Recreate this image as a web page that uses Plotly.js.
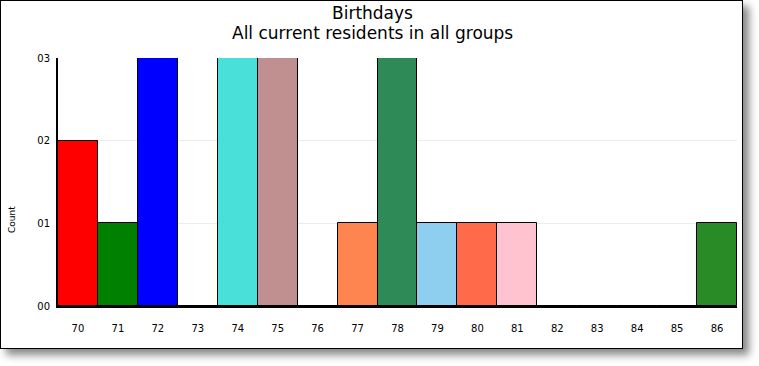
<!DOCTYPE html>
<html>
<head>
<meta charset="utf-8">
<script src="https://cdn.plot.ly/plotly-3.0.1.min.js"></script>
<style>
html,body{margin:0;padding:0;background:#fff;}
#frame{position:absolute;left:0;top:0;width:741px;height:347px;border:1px solid #000;box-shadow:6px 6px 8px #888;background:#fff;}
#chart{width:741px;height:347px;}
</style>
</head>
<body>
<div id="frame"><div id="chart"></div></div>
<script>
var categories = ["70","71","72","73","74","75","76","77","78","79","80","81","82","83","84","85","86"];
var counts = [2,1,3,0,3,3,0,1,3,1,1,1,0,0,0,0,1];
var barColors = ["#FF0000","#008000","#0000FF","#FFFFFF","#48E0D8","#C09090","#FFFFFF","#FF8550","#2E8B57","#8ECFF0","#FF6A4A","#FFC3D0","#FFFFFF","#FFFFFF","#FFFFFF","#FFFFFF","#288B25"];
var yTicks = [0,1,2,3];
var titleLine1 = 'Birthdays';
var titleLine2 = 'All current residents in all groups';

var trace = {
  type: 'bar',
  x: categories,
  y: counts,
  cliponaxis: false,
  marker: {color: barColors, line: {color: '#000', width: 1}},
  hoverinfo: 'x+y'
};

var titleFont = {size: 17, color: '#000', family: 'DejaVu Sans, Verdana, sans-serif'};

var layout = {
  width: 741, height: 347,
  margin: {l: 57, r: 5, t: 57, b: 42},
  paper_bgcolor: '#fff', plot_bgcolor: '#fff',
  bargap: 0,
  showlegend: false,
  font: {family: 'DejaVu Sans, Verdana, sans-serif', color: '#000'},
  xaxis: {
    type: 'category',
    showline: true, linecolor: '#000', linewidth: 2,
    showgrid: false, zeroline: false,
    ticks: '', ticklabelstandoff: 12,
    tickfont: {size: 10, color: '#000'}
  },
  yaxis: {
    range: [0, 3],
    tickvals: yTicks,
    tickformat: '02d',
    showline: true, linecolor: '#000', linewidth: 2,
    showgrid: true, gridcolor: '#ececec', gridwidth: 1,
    zeroline: false,
    ticks: '', ticklabelstandoff: 4,
    tickfont: {size: 10, color: '#000'}
  },
  annotations: [
    {text: titleLine1, xref: 'paper', yref: 'paper', x: (371.5 - 57) / 679, y: 1 + 45 / 248,
     xanchor: 'center', yanchor: 'middle', showarrow: false, font: titleFont},
    {text: titleLine2, xref: 'paper', yref: 'paper', x: (371.5 - 57) / 679, y: 1 + 25 / 248,
     xanchor: 'center', yanchor: 'middle', showarrow: false, font: titleFont},
    {text: 'Count', xref: 'paper', yref: 'paper',
     x: -0.068, y: 0.35, xanchor: 'center', yanchor: 'middle',
     textangle: -90, showarrow: false,
     font: {size: 9, color: '#000'}}
  ]
};

Plotly.newPlot('chart', [trace], layout, {displayModeBar: false});
</script>
</body>
</html>
